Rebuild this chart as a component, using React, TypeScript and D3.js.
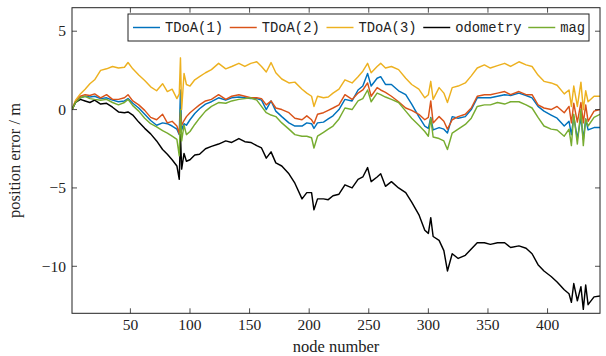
import { line, scaleLinear } from 'd3'

const nodes = [
  1, 4, 8, 12, 16, 20, 25, 30, 35, 40,
  45, 48, 52, 57, 62, 67, 72, 77, 81, 85,
  89, 91, 92, 93, 95, 97, 100, 104, 108, 113,
  118, 124, 130, 135, 141, 146, 151, 156, 160, 164,
  168, 172, 177, 183, 188, 194, 198, 202, 204, 207,
  212, 216, 220, 225, 230, 236, 241, 245, 249, 252,
  257, 260, 264, 269, 275, 281, 286, 292, 297, 300,
  302, 304, 309, 313, 316, 320, 325, 331, 336, 341,
  347, 352, 358, 364, 369, 376, 382, 387, 392, 397,
  403, 408, 414, 418, 420, 422, 425, 428, 430, 432,
  434, 439, 444,
]

const tdoa1 = [
  0, 0.5, 0.75, 0.85, 0.8, 0.85, 0.7, 0.75, 0.6, 0.5,
  0.55, 0.7, 0.4, 0.1, -0.3, -0.7, -1.0, -0.85, -0.9, -1.05,
  -1.25, -1.6, 1.25, -1.3, -0.9, -1.0, -0.65, -0.25, 0.05, 0.35,
  0.5, 0.75, 0.6, 0.75, 0.8, 0.75, 0.7, 0.7, 0.6, 0.0,
  0.55, -0.1, -0.45, -0.85, -1.05, -1.05, -0.85, -0.9, -1.2, -0.85,
  -0.8, -0.6, -0.4, 0.0, 0.65, 0.55, 1.25, 1.5, 2.3, 1.5,
  2.0, 2.1, 1.6, 1.6, 1.2, 0.95, 0.35, -0.45, -1.05, -1.2,
  -0.5, -1.3, -1.15, -1.25, -1.5, -0.45, -0.55, -0.45, 0.0, 0.75,
  0.75, 0.75, 0.85, 0.95, 0.9, 1.05, 0.9, 0.75, 0.2, -0.1,
  -0.35, -0.55, -1.05, -0.75, -1.6, -0.45, -1.85, -0.5, -1.9, -0.6,
  -1.3, -1.15, -1.15,
]

const tdoa2 = [
  0, 0.55, 0.85, 0.95, 0.9, 1.0, 0.75, 0.95, 0.65, 0.65,
  0.75, 0.95, 0.55, 0.3, -0.05, -0.5, -0.65, -0.3, -0.85, -0.75,
  -1.05, -1.55, -0.2, -1.0, -0.7, -0.45, -0.2, 0.05, 0.3, 0.55,
  0.65, 0.95, 0.65, 0.85, 0.95, 0.85, 0.75, 0.75, 0.7, 0.3,
  0.55, 0.1, 0.0, -0.2, -0.55, -0.65, -0.4, -0.65, -0.9, -0.3,
  -0.2, -0.05, 0.1, 0.3, 0.95, 0.65, 1.05, 1.25, 1.7, 0.85,
  1.4, 1.25, 1.1, 0.85, 0.5, 0.1, -0.05, -0.3, -0.65, -0.5,
  0.55, -0.85, -0.45, -0.75, -1.25, -0.65, -0.45, -0.3, 0.1, 0.85,
  0.95, 0.95, 1.05, 1.15, 0.95, 1.15, 0.95, 0.95, 0.3, 0.1,
  0.0, 0.2, -0.2, 0.2, -0.85, 0.4, -0.8, 0.45, -0.85, 0.3,
  -0.75, -0.1, 0.0,
]

const tdoa3 = [
  0, 0.6, 1.0, 1.3, 1.65, 1.9, 2.5, 2.6, 2.75, 2.65,
  2.7, 3.0, 2.6, 2.2, 1.85, 1.45, 1.2, 1.65, 1.15, 1.3,
  0.7, 1.0, 3.3, 0.0, 2.3, 1.6, 1.5, 1.9, 2.1, 2.35,
  2.55, 2.95, 2.6, 2.75, 2.95, 2.75, 2.95, 3.05, 2.75, 2.4,
  3.0, 2.35, 1.95, 1.7, 1.75, 1.3, 1.05, 0.85, 0.2, 0.85,
  0.75, 0.8, 1.05, 1.3, 1.9, 1.7, 2.1, 2.45, 2.95, 2.35,
  2.75, 2.95, 2.65, 2.75, 2.55, 2.0, 1.6, 1.3, 0.75, 0.95,
  1.8, 0.65, 1.4, 1.05, 0.45, 1.4, 1.5, 1.7, 2.15, 2.65,
  2.85, 2.65, 2.8, 2.95, 2.75, 3.05, 2.85, 2.75, 2.2, 1.8,
  1.7, 1.55, 1.0, 1.25, 0.2, 1.5, 0.2, 1.75, 0.0, 1.2,
  0.5, 0.85, 0.85,
]

const odometry = [
  0, 0.45, 0.65, 0.55, 0.45, 0.6, 0.35, 0.4, 0.15, -0.15,
  -0.2, -0.15, -0.35, -0.8, -1.2, -1.55, -2.0, -2.55, -2.85, -3.2,
  -3.6, -4.45, -1.6, -3.8, -2.8, -3.3, -3.2, -2.9, -2.85, -2.5,
  -2.35, -2.2, -2.0, -2.1, -1.85, -2.05, -2.1, -2.3, -2.45, -3.1,
  -2.7, -3.4, -3.6, -4.1, -4.7, -5.7, -5.3, -5.3, -6.4, -5.7,
  -5.7, -5.75, -5.5, -5.4, -4.8, -5.0, -4.45, -4.3, -3.7, -4.6,
  -4.3, -4.1, -4.9, -4.6, -5.0, -5.3, -5.9, -6.7, -7.7, -7.9,
  -6.9, -8.1, -8.35, -9.0, -10.3, -9.2, -9.5, -9.3, -8.9, -8.5,
  -8.5, -8.6, -8.5, -8.5, -8.8, -8.7, -8.85, -9.2, -9.9, -10.3,
  -10.65, -11.0, -11.5, -11.75, -12.3, -11.1, -12.2, -11.3, -12.75, -11.2,
  -12.45, -11.95, -11.9,
]

const mag = [
  0, 0.45, 0.75, 0.85, 0.7, 0.65, 0.6, 0.65, 0.45, 0.3,
  0.45, 0.65, 0.25, -0.1, -0.55, -0.9, -1.1, -1.35, -1.5, -1.7,
  -1.9, -2.95, 0.0, -2.0, -1.0, -1.6, -1.4, -0.95, -0.55, -0.1,
  0.2, 0.45, 0.4, 0.55, 0.65, 0.7, 0.75, 0.6, 0.2, -0.2,
  -0.35, -0.45, -0.85, -1.25, -1.6, -1.7, -1.7, -1.8, -2.45, -1.7,
  -1.45, -1.25, -1.05, -0.6, 0.1, 0.0, 0.55, 0.7, 1.25, 0.5,
  1.05, 0.95, 0.8, 0.65, 0.45, -0.1, -0.55, -1.0, -1.4, -1.7,
  -0.55, -1.75, -1.85, -2.0, -2.55, -1.5, -1.25, -0.95, -0.55, 0.2,
  0.3, 0.3, 0.45, 0.35, 0.5, 0.5, 0.3, 0.1, -0.5, -1.05,
  -1.25, -1.3, -1.7, -1.25, -2.3, -0.3, -2.2, 0.0, -2.3, -0.6,
  -1.05, -0.5, -0.3,
]

const xTicks = [50, 100, 150, 200, 250, 300, 350, 400]
const yTicks = [-10, -5, 0, 5]

const series = [
  { label: 'TDoA(1)', values: tdoa1, color: '#0072bd' },
  { label: 'TDoA(2)', values: tdoa2, color: '#d95319' },
  { label: 'TDoA(3)', values: tdoa3, color: '#edb120' },
  { label: 'odometry', values: odometry, color: '#000000' },
  { label: 'mag', values: mag, color: '#77ac30' },
]

const width = 606
const height = 356
const plot = { left: 72, right: 600, top: 7.7, bottom: 313.3 }
const tickLength = 5
const serif = '"Liberation Serif", "Times New Roman", serif'
const mono = '"Liberation Mono", "DejaVu Sans Mono", monospace'

function formatTick(value: number) {
  return value < 0 ? `\u2212${Math.abs(value)}` : `${value}`
}

function App() {
  const xScale = scaleLinear().domain([1, 444]).range([plot.left, plot.right])
  const yScale = scaleLinear().domain([-13, 6.5]).range([plot.bottom, plot.top])

  // legend entries laid out left to right, monospace text
  const charWidth = 8.25
  let cursor = 133
  const legendItems = series.map((s) => {
    const item = { ...s, x: cursor }
    cursor += 27 + 5 + s.label.length * charWidth + 7
    return item
  })

  return (
    <div style={{ position: 'fixed', left: 0, top: 0 }}>
      <svg width={width} height={height} viewBox={`0 0 ${width} ${height}`}>
        <rect x={0} y={0} width={width} height={height} fill="#ffffff" />
        <defs>
          <clipPath id="plot-area">
            <rect
              x={plot.left}
              y={plot.top}
              width={plot.right - plot.left}
              height={plot.bottom - plot.top}
            />
          </clipPath>
        </defs>

        <g clipPath="url(#plot-area)">
          {series.map((s) => {
            const path = line<number>()
              .x((_, i) => xScale(nodes[i]))
              .y((d) => yScale(d))(s.values)
            return (
              <path
                key={s.label}
                d={path ?? ''}
                fill="none"
                stroke={s.color}
                strokeWidth={1.45}
                strokeLinejoin="round"
              />
            )
          })}
        </g>

        {xTicks.map((tick) => {
          const x = xScale(tick)
          return (
            <g key={`x-${tick}`}>
              <line x1={x} x2={x} y1={plot.bottom} y2={plot.bottom - tickLength} stroke="#222" strokeWidth={0.8} />
              <line x1={x} x2={x} y1={plot.top} y2={plot.top + tickLength} stroke="#222" strokeWidth={0.8} />
              <text
                x={x}
                y={330}
                textAnchor="middle"
                fontFamily={serif}
                fontSize={15.5}
                fill="#222"
              >
                {tick}
              </text>
            </g>
          )
        })}

        {yTicks.map((tick) => {
          const y = yScale(tick)
          return (
            <g key={`y-${tick}`}>
              <line x1={plot.left} x2={plot.left + tickLength} y1={y} y2={y} stroke="#222" strokeWidth={0.8} />
              <line x1={plot.right} x2={plot.right - tickLength} y1={y} y2={y} stroke="#222" strokeWidth={0.8} />
              <text
                x={66}
                y={y}
                dy="0.34em"
                textAnchor="end"
                fontFamily={serif}
                fontSize={15.5}
                fill="#222"
              >
                {formatTick(tick)}
              </text>
            </g>
          )
        })}

        <rect
          x={plot.left}
          y={plot.top}
          width={plot.right - plot.left}
          height={plot.bottom - plot.top}
          fill="none"
          stroke="#222"
          strokeWidth={1}
        />

        <text
          x={(plot.left + plot.right) / 2}
          y={352}
          textAnchor="middle"
          fontFamily={serif}
          fontSize={16.5}
          fill="#222"
        >
          node number
        </text>
        <text
          transform={`translate(20, ${(plot.top + plot.bottom) / 2}) rotate(-90)`}
          textAnchor="middle"
          fontFamily={serif}
          fontSize={16.5}
          fill="#222"
        >
          position error / m
        </text>

        <g>
          <rect x={128} y={14} width={461} height={27} fill="#ffffff" stroke="#222" strokeWidth={1} />
          {legendItems.map((item) => (
            <g key={`legend-${item.label}`}>
              <line
                x1={item.x}
                x2={item.x + 27}
                y1={27.5}
                y2={27.5}
                stroke={item.color}
                strokeWidth={1.45}
              />
              <text
                x={item.x + 32}
                y={27.5}
                dy="0.34em"
                fontFamily={mono}
                fontSize={13.8}
                fill="#222"
              >
                {item.label}
              </text>
            </g>
          ))}
        </g>
      </svg>
    </div>
  )
}

export default App
